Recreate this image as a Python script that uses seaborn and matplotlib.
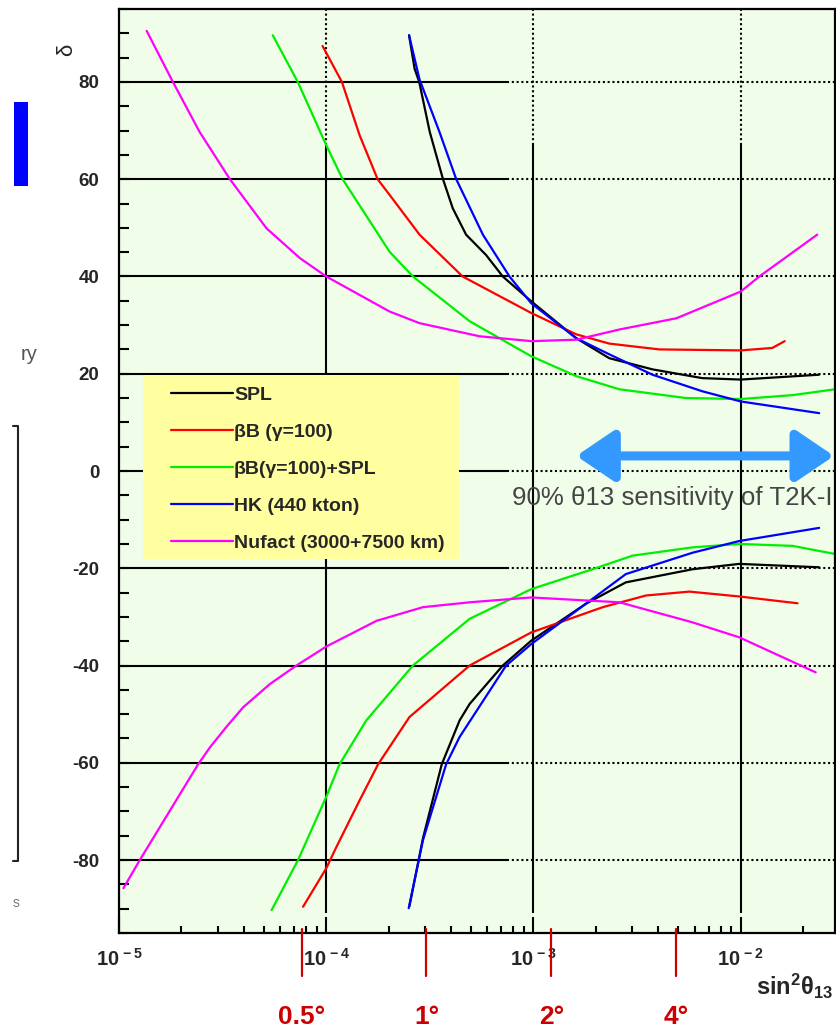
import numpy as np
import pandas as pd
import matplotlib
matplotlib.use("Agg")
import matplotlib.pyplot as plt
import matplotlib.transforms as mtransforms
import seaborn as sns
from matplotlib.lines import Line2D
from matplotlib.patches import Rectangle
from matplotlib.ticker import LogLocator, MultipleLocator, NullFormatter

sns.set_theme(style="white")
plt.rcParams["font.family"] = ["Liberation Sans", "DejaVu Sans"]
plt.rcParams["axes.unicode_minus"] = False
plt.rcParams["mathtext.fontset"] = "custom"
plt.rcParams["mathtext.rm"] = "Liberation Sans"
plt.rcParams["mathtext.bf"] = "Liberation Sans:bold"
plt.rcParams["mathtext.it"] = "Liberation Sans:italic"
plt.rcParams["mathtext.default"] = "bf"

# ---- sensitivity contours: sin^2(theta13) vs delta (upper and lower branches) ----
spl_up_x = [2.51e-4, 2.67e-4, 2.81e-4, 3.16e-4, 3.66e-4, 4.08e-4, 4.73e-4, 5.91e-4, 7.11e-4,
            9.75e-4, 1.61e-3, 2.32e-3, 3.75e-3, 6.52e-3, 1.0e-2, 2.39e-2]
spl_up_d = [89.6, 82.7, 80, 69.7, 60, 54, 48.6, 44.4, 40, 34.9, 27.3, 23.2, 20.9, 19.1, 18.8, 19.8]
spl_lo_x = [2.52e-4, 2.93e-4, 3.61e-4, 4.4e-4, 4.92e-4, 7.11e-4, 9.75e-4, 1.79e-3, 2.79e-3,
            5.86e-3, 9.84e-3, 2.39e-2]
spl_lo_d = [-89.5, -75.5, -60.3, -51.3, -47.9, -40, -34.9, -27.3, -22.9, -20.2, -19.1, -19.8]

bb_up_x = [9.6e-5, 1.19e-4, 1.45e-4, 1.77e-4, 2.02e-4, 2.82e-4, 4.55e-4, 9.75e-4, 1.61e-3,
           2.32e-3, 4.05e-3, 1.0e-2, 1.42e-2, 1.63e-2]
bb_up_d = [87.4, 80, 69, 60, 56.8, 48.6, 40, 32.5, 28.1, 26.2, 25, 24.8, 25.3, 26.7]
bb_lo_x = [7.73e-5, 1.0e-4, 1.12e-4, 1.45e-4, 1.78e-4, 2.52e-4, 4.92e-4, 9.75e-4, 2.16e-3,
           3.49e-3, 5.65e-3, 9.84e-3, 1.88e-2]
bb_lo_d = [-89.6, -81.7, -77.3, -67.7, -60.3, -50.6, -40, -33.2, -28, -25.6, -24.8, -25.8, -27.2]

bbspl_up_x = [5.52e-5, 7.29e-5, 1.0e-4, 1.2e-4, 2.02e-4, 2.62e-4, 4.92e-4, 9.75e-4, 1.61e-3,
              2.6e-3, 5.45e-3, 1.0e-2, 1.78e-2, 2.85e-2]
bbspl_up_d = [89.6, 80, 67, 60, 45.1, 40, 30.8, 23.6, 19.5, 16.8, 15.0, 14.8, 15.6, 16.8]
bbspl_lo_x = [5.45e-5, 7.31e-5, 1.0e-4, 1.16e-4, 1.56e-4, 2.62e-4, 4.92e-4, 9.75e-4, 1.93e-3,
              3.01e-3, 5.86e-3, 9.84e-3, 1.78e-2, 2.88e-2]
bbspl_lo_d = [-90.3, -80, -67, -60.3, -51.3, -40, -30.4, -24.3, -20.2, -17.4, -15.7, -15.0,
              -15.4, -17.1]

hk_up_x = [2.51e-4, 2.82e-4, 3.52e-4, 4.24e-4, 5.7e-4, 7.66e-4, 9.75e-4, 1.61e-3, 2.32e-3,
           3.75e-3, 6.52e-3, 1.0e-2, 2.39e-2]
hk_up_d = [89.6, 80.5, 69.7, 60, 48.6, 40, 34.5, 27.3, 24, 19.8, 16.4, 14.3, 11.9]
hk_lo_x = [2.5e-4, 2.93e-4, 3.79e-4, 4.4e-4, 7.38e-4, 9.75e-4, 1.79e-3, 2.79e-3, 5.86e-3,
           9.84e-3, 2.39e-2]
hk_lo_d = [-89.9, -75.9, -60.3, -54.7, -40, -35.6, -27.3, -21.2, -16.8, -14.4, -11.7]

nf_up_x = [1.36e-5, 1.82e-5, 2.45e-5, 3.43e-5, 5.15e-5, 7.45e-5, 1.0e-4, 2.02e-4, 2.82e-4,
           5.5e-4, 9.8e-4, 1.61e-3, 2.6e-3, 4.89e-3, 1.0e-2, 1.23e-2, 2.34e-2]
nf_up_d = [90.5, 80, 69.7, 60, 49.9, 43.8, 40, 32.8, 30.4, 27.7, 26.7, 27, 29.1, 31.4, 36.9,
           40, 48.6]
nf_lo_x = [1.05e-5, 1.26e-5, 2.41e-5, 2.75e-5, 3.3e-5, 3.97e-5, 5.35e-5, 7.18e-5, 1.0e-4,
           1.75e-4, 2.93e-4, 4.92e-4, 9.75e-4, 2.6e-3, 5.83e-3, 9.84e-3, 2.3e-2]
nf_lo_d = [-85.8, -80, -60.3, -56.8, -52.6, -48.6, -43.8, -40, -36.1, -30.8, -28, -27, -26,
           -27, -31.1, -34.2, -41.4]

experiments = ["SPL", "βB (γ=100)", "βB(γ=100)+SPL", "HK (440 kton)", "Nufact (3000+7500 km)"]
colors = ["#000000", "#FF0000", "#00EE00", "#0000FF", "#FF00FF"]
branches = {
    experiments[0]: [(spl_up_x, spl_up_d), (spl_lo_x, spl_lo_d)],
    experiments[1]: [(bb_up_x, bb_up_d), (bb_lo_x, bb_lo_d)],
    experiments[2]: [(bbspl_up_x, bbspl_up_d), (bbspl_lo_x, bbspl_lo_d)],
    experiments[3]: [(hk_up_x, hk_up_d), (hk_lo_x, hk_lo_d)],
    experiments[4]: [(nf_up_x, nf_up_d), (nf_lo_x, nf_lo_d)],
}

# axis ticks and decorations
x_decades = [1e-5, 1e-4, 1e-3, 1e-2]
y_ticks = [-80, -60, -40, -20, 0, 20, 40, 60, 80]
angles_deg = [0.5, 1, 2, 4]
angle_labels = ["0.5°", "1°", "2°", "4°"]
t2k_range = (1.61e-3, 2.82e-2)
t2k_delta = 3.1

rows = []
for exp, parts in branches.items():
    for name, (xs, ds) in zip(["upper", "lower"], parts):
        for xv, dv in zip(xs, ds):
            rows.append({"sin2": xv, "delta": dv, "experiment": exp, "branch": name})
df = pd.DataFrame(rows)

fig = plt.figure(figsize=(8.37, 10.29), dpi=100)
fig.patch.set_facecolor("white")
ax = fig.add_axes([119 / 837, 1 - 933 / 1029, 716 / 837, 924 / 1029])
ax.set_facecolor("#F0FDE8")
ax.set_xscale("log")
xlo, xhi = 1e-5, 10 ** -1.545
ylo, yhi = -95, 95

sns.lineplot(data=df, x="sin2", y="delta", hue="experiment", units="branch",
             estimator=None, sort=False, palette=dict(zip(experiments, colors)),
             hue_order=experiments, linewidth=1.6, legend=False, ax=ax, zorder=2)
for ln in ax.lines:
    ln.set_solid_joinstyle("round")

ax.set_xlim(xlo, xhi)
ax.set_ylim(ylo, yhi)

# grid: solid near the left/bottom, dotted elsewhere
h_split = 10 ** -3.13
v_split = 67
dots = (0, (1, 1.3))
ax.hlines(y_ticks, xlo, h_split, colors="black", lw=1.5, zorder=1)
ax.hlines(y_ticks, h_split, xhi, colors="black", lw=1.5, linestyles=dots, zorder=1)
ax.vlines(x_decades[1:], -90.9, v_split, colors="black", lw=1.5, zorder=1)
ax.vlines(x_decades[1:], v_split, yhi, colors="black", lw=1.5, linestyles=dots, zorder=1)

ax.set_xticks(x_decades, [r"$\mathbf{10^{\,%d}}$" % round(np.log10(v)) for v in x_decades])
ax.xaxis.set_minor_locator(LogLocator(base=10, subs=np.arange(2, 10)))
ax.xaxis.set_minor_formatter(NullFormatter())
ax.set_yticks(y_ticks, [str(v) for v in y_ticks], fontweight="bold")
ax.yaxis.set_minor_locator(MultipleLocator(5))
ax.tick_params(axis="x", which="major", direction="in", length=11.5, width=1.5,
               labelsize=14.5, pad=11, top=False, bottom=True, color="black")
ax.tick_params(axis="x", which="minor", direction="in", length=5, width=1.5,
               top=False, bottom=True, color="black")
ax.tick_params(axis="y", which="both", direction="in", length=7.2, width=1.5,
               labelsize=13.5, pad=14, left=True, right=False, color="black")
for sp in ax.spines.values():
    sp.set_color("black")
    sp.set_linewidth(1.6)
    sp.set_zorder(5)

ax.set_ylabel("δ", fontsize=16, rotation=90)
ax.yaxis.set_label_coords(-0.0587, 0.9556)
ax.set_xlabel(r"$\mathbf{sin^{2}\theta_{13}}$", fontsize=17)
ax.xaxis.set_label_coords(0.944, -0.0425)

# legend on a yellow panel
ax.add_patch(Rectangle((0.0335, 0.4048), 0.4414, 0.1991, transform=ax.transAxes,
                       facecolor="#FFFFA0", edgecolor="none", zorder=3))
handles = [Line2D([], [], color=c, lw=1.6) for c in colors]
leg = ax.legend(handles, experiments, loc="upper left", bbox_to_anchor=(0.0726, 0.5914),
                frameon=False, borderpad=0, borderaxespad=0, handlelength=3.19,
                handletextpad=0.05, labelspacing=0.99,
                prop={"weight": "bold", "size": 14})
leg.set_zorder(4)

# T2K-I sensitivity range
ax.annotate("", xy=(t2k_range[1], t2k_delta), xytext=(t2k_range[0], t2k_delta),
            arrowprops=dict(arrowstyle="<|-|>,head_length=1.15,head_width=0.78",
                            color="#3399FF", lw=6.5, shrinkA=0, shrinkB=0,
                            mutation_scale=20),
            annotation_clip=False, zorder=6)
ax.text((512 - 119) / 716, 0.4708, "90% θ13 sensitivity of T2K-I", transform=ax.transAxes,
        ha="left", va="center", fontsize=18.6, color="#454545", zorder=6)

# angle markers below the axis
angle_x = np.sin(np.radians(angles_deg)) ** 2
blend = mtransforms.blended_transform_factory(ax.transData, fig.transFigure)
for xv, lab in zip(angle_x, angle_labels):
    fig.add_artist(Line2D([xv, xv], [1 - 929 / 1029, 1 - 976 / 1029], transform=blend,
                          color="#CC0000", lw=1.6))
    fig.text(xv, 1 - 1017 / 1029, lab, transform=blend, ha="center", va="center",
             fontsize=19, fontweight="bold", color="#CC0000")

# slide elements at the left edge
fig.add_artist(Rectangle((14 / 837, 1 - 186 / 1029), 14 / 837, 84 / 1029,
                         transform=fig.transFigure, facecolor="#0000FF", edgecolor="none"))
fig.text(38 / 837, 1 - 354 / 1029, "ry", ha="right", va="center", fontsize=14.5,
         color="#555555")
bx = 18 / 837
fig.add_artist(Line2D([13 / 837, bx, bx, 13 / 837],
                      [1 - 426 / 1029, 1 - 426 / 1029, 1 - 861 / 1029, 1 - 861 / 1029],
                      transform=fig.transFigure, color="#222222", lw=1.5))
fig.text(20 / 837, 1 - 903 / 1029, "s", ha="right", va="center", fontsize=10,
         color="#777777")

fig.savefig("out.png", dpi=100)
